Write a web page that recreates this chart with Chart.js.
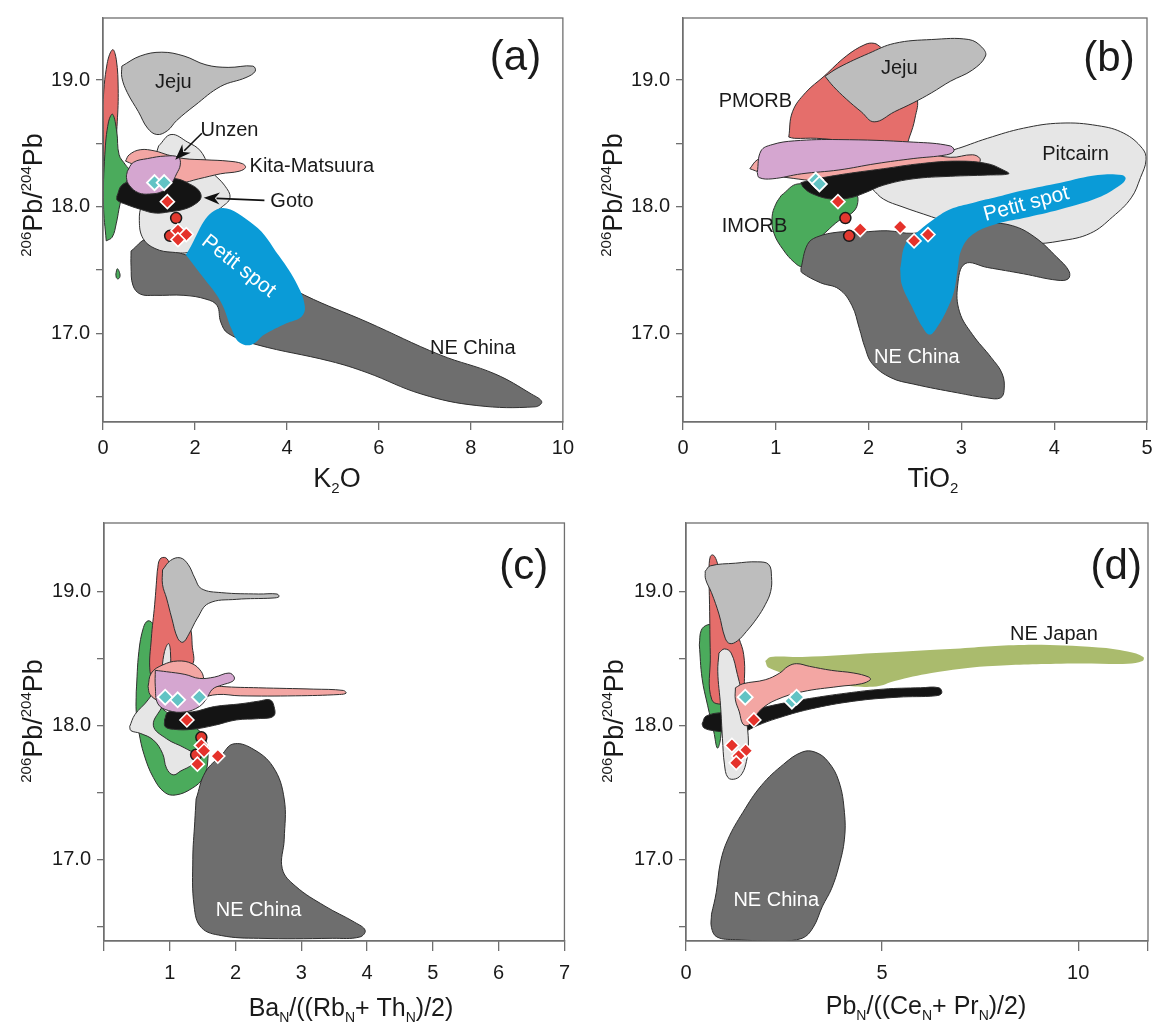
<!DOCTYPE html>
<html>
<head>
<meta charset="utf-8">
<script src="https://cdn.jsdelivr.net/npm/chart.js@4.4.1/dist/chart.umd.min.js"></script>
<style>
  html, body { margin: 0; padding: 0; background: #ffffff; }
  #wrap { position: relative; width: 1160px; height: 1030px; }
  canvas { position: absolute; }
</style>
</head>
<body>
<div id="wrap">
  <canvas id="pa" width="580" height="505" style="left:0;top:0"></canvas>
  <canvas id="pb" width="580" height="505" style="left:580px;top:0"></canvas>
  <canvas id="pc" width="580" height="525" style="left:0;top:505px"></canvas>
  <canvas id="pd" width="580" height="525" style="left:580px;top:505px"></canvas>
</div>
<script>
// ---------- Panel (a): 206Pb/204Pb vs K2O ----------
const aNEChina = [[0.61,17.65],[0.97,17.75],[1.29,17.71],[1.80,17.62],[3.35,17.51],[4.39,17.30],[5.74,17.09],[7.33,16.83],[8.52,16.68],[9.32,16.52],[9.54,16.46],[9.40,16.42],[8.13,16.43],[6.93,16.52],[5.74,16.69],[4.94,16.78],[3.35,16.91],[2.72,17.00],[2.56,17.09],[2.48,17.22],[2.24,17.27],[1.76,17.30],[1.13,17.30],[0.81,17.31],[0.65,17.38],[0.61,17.53]];
const aPetitSpot = [[1.80,17.62],[2.48,17.98],[3.27,17.86],[3.83,17.61],[4.23,17.38],[4.39,17.21],[4.31,17.13],[3.99,17.08],[3.51,16.99],[3.23,16.91],[2.96,16.93],[2.80,17.03],[2.56,17.25],[2.16,17.45]];
const aPitcairn = [[1.21,18.48],[1.48,18.57],[1.84,18.51],[2.12,18.44],[2.36,18.28],[2.64,18.17],[2.76,18.07],[2.56,17.99],[2.32,17.92],[2.12,17.76],[1.92,17.65],[1.52,17.64],[1.13,17.67],[0.87,17.75],[0.79,17.89],[0.85,18.02],[1.05,18.13],[1.09,18.33]];
const aPMORB = [[0.00,18.13],[0.01,18.49],[0.00,18.80],[0.09,19.13],[0.21,19.24],[0.29,19.16],[0.33,18.93],[0.31,18.67],[0.25,18.41],[0.17,18.23]];
const aIMORB = [[0.07,17.73],[0.01,18.02],[0.04,18.41],[0.12,18.67],[0.21,18.73],[0.30,18.59],[0.35,18.41],[0.49,18.33],[0.58,18.28],[0.49,18.18],[0.37,18.02],[0.29,17.87],[0.20,17.76]];
const aIMORBdot = [[0.28,17.47],[0.31,17.51],[0.35,17.49],[0.37,17.45],[0.33,17.43],[0.29,17.44]];
const aJeju = [[0.41,19.11],[0.81,19.19],[1.28,19.22],[1.76,19.19],[2.24,19.12],[2.72,19.10],[3.26,19.11],[3.31,19.07],[3.11,19.02],[2.56,18.95],[2.00,18.80],[1.60,18.68],[1.40,18.60],[1.17,18.57],[0.97,18.62],[0.77,18.75],[0.53,18.90],[0.41,19.02]];
const aKita = [[0.49,18.36],[0.57,18.41],[0.81,18.45],[1.13,18.44],[1.40,18.41],[1.76,18.38],[2.24,18.37],[2.72,18.36],[3.03,18.34],[3.10,18.31],[2.96,18.28],[2.56,18.26],[2.08,18.22],[1.68,18.19],[1.28,18.23],[0.81,18.31]];
const aGoto = [[0.30,18.08],[0.41,18.17],[0.65,18.20],[1.13,18.22],[1.60,18.22],[1.88,18.18],[2.08,18.13],[2.13,18.07],[2.00,18.02],[1.76,17.98],[1.45,17.96],[1.13,17.95],[0.81,17.98],[0.49,18.02],[0.31,18.05]];
const aUnzen = [[0.53,18.28],[0.66,18.35],[0.97,18.38],[1.36,18.40],[1.64,18.39],[1.68,18.33],[1.60,18.26],[1.48,18.18],[1.29,18.12],[1.01,18.10],[0.77,18.11],[0.57,18.17],[0.51,18.23]];
const aRedDiamonds = [[1.40,18.04],[1.63,17.81],[1.81,17.78],[1.63,17.74]];
const aRedCircles = [[1.59,17.91],[1.46,17.77]];
const aCyanDiamonds = [[1.12,18.19],[1.33,18.19]];

// ---------- Panel (b): 206Pb/204Pb vs TiO2 ----------
const bPitcairn = [[2.04,18.14],[2.28,18.31],[2.68,18.41],[2.92,18.45],[3.28,18.54],[3.67,18.62],[4.07,18.66],[4.47,18.64],[4.75,18.58],[4.95,18.46],[4.99,18.37],[4.93,18.23],[4.83,18.07],[4.63,17.92],[4.39,17.79],[4.07,17.73],[3.75,17.71],[3.48,17.75],[3.08,17.82],[2.68,17.92],[2.36,18.00],[2.16,18.06]];
const bIMORB = [[1.06,18.09],[1.24,18.18],[1.60,18.13],[1.86,18.10],[1.88,18.02],[1.82,17.95],[1.68,17.89],[1.54,17.80],[1.40,17.70],[1.32,17.60],[1.28,17.53],[1.20,17.56],[1.08,17.66],[0.98,17.79],[0.96,17.92],[1.00,18.02]];
const bNEChina = [[1.27,17.51],[1.34,17.70],[1.44,17.76],[1.68,17.80],[1.92,17.80],[2.20,17.81],[2.48,17.79],[2.88,17.84],[3.28,17.87],[3.55,17.85],[3.79,17.76],[4.03,17.60],[4.16,17.49],[4.15,17.43],[4.03,17.42],[3.67,17.47],[3.28,17.52],[3.04,17.55],[2.96,17.38],[2.98,17.17],[3.12,16.99],[3.32,16.81],[3.44,16.68],[3.46,16.55],[3.42,16.49],[3.28,16.49],[2.96,16.53],[2.48,16.60],[2.24,16.65],[2.04,16.76],[1.96,16.89],[1.90,17.04],[1.82,17.22],[1.68,17.35],[1.48,17.40],[1.28,17.48]];
const bPetitSpot = [[2.34,17.51],[2.40,17.71],[2.56,17.82],[2.68,17.89],[2.88,17.98],[3.12,18.03],[3.40,18.08],[3.67,18.13],[4.07,18.19],[4.47,18.25],[4.73,18.25],[4.77,18.22],[4.71,18.17],[4.47,18.07],[4.07,17.98],[3.67,17.91],[3.36,17.86],[3.12,17.78],[3.00,17.66],[2.96,17.51],[2.92,17.33],[2.84,17.18],[2.74,17.05],[2.66,16.99],[2.58,17.05],[2.46,17.22],[2.36,17.38]];
const bPMORB = [[1.14,18.55],[1.18,18.75],[1.32,18.90],[1.52,19.03],[1.76,19.19],[1.96,19.28],[2.06,19.29],[2.13,19.26],[2.32,19.16],[2.52,18.86],[2.50,18.70],[2.44,18.55],[2.40,18.50],[1.92,18.51],[1.44,18.54],[1.20,18.54]];
const bJeju = [[1.53,19.03],[1.68,19.10],[2.00,19.21],[2.28,19.29],[2.68,19.32],[3.08,19.32],[3.22,19.26],[3.26,19.19],[3.12,19.08],[2.88,18.99],[2.68,18.90],[2.48,18.82],[2.28,18.75],[2.06,18.67],[1.92,18.75],[1.76,18.85],[1.62,18.95]];
const bKita = [[0.72,18.30],[0.80,18.37],[1.00,18.44],[1.24,18.49],[1.68,18.48],[2.48,18.44],[2.88,18.39],[3.12,18.41],[3.20,18.38],[3.18,18.34],[2.88,18.30],[2.48,18.27],[2.08,18.24],[1.60,18.20],[1.12,18.23],[0.84,18.27]];
const bGoto = [[1.27,18.19],[1.44,18.22],[1.76,18.26],[2.16,18.30],[2.56,18.34],[2.96,18.36],[3.28,18.34],[3.45,18.29],[3.51,18.26],[3.28,18.25],[2.88,18.24],[2.48,18.22],[2.16,18.17],[1.96,18.11],[1.80,18.07],[1.60,18.06],[1.40,18.10],[1.30,18.15]];
const bUnzen = [[0.80,18.27],[0.84,18.44],[0.96,18.49],[1.20,18.52],[1.68,18.53],[2.48,18.51],[2.88,18.48],[2.92,18.44],[2.84,18.41],[2.48,18.38],[2.08,18.34],[1.68,18.29],[1.28,18.26],[0.96,18.22],[0.82,18.23]];
const bRedDiamonds = [[1.67,18.04],[1.91,17.82],[2.34,17.84],[2.49,17.73],[2.64,17.78]];
const bRedCircles = [[1.75,17.91],[1.79,17.77]];
const bCyanDiamonds = [[1.43,18.21],[1.47,18.18]];

// ---------- Panel (c): 206Pb/204Pb vs BaN/((RbN+ThN)/2) ----------
const cIMORB = [[0.49,18.25],[0.53,18.55],[0.60,18.73],[0.67,18.78],[0.75,18.75],[0.77,18.60],[0.72,18.40],[0.84,18.15],[1.34,18.00],[1.54,17.90],[1.58,17.75],[1.51,17.61],[1.34,17.53],[1.09,17.48],[0.92,17.50],[0.75,17.61],[0.61,17.78],[0.53,17.95],[0.49,18.10]];
const cPMORB = [[0.81,19.15],[0.85,19.24],[0.94,19.25],[1.00,19.20],[1.12,19.02],[1.20,18.83],[1.31,18.73],[1.34,18.60],[1.34,18.45],[1.06,18.40],[0.78,18.35],[0.70,18.40],[0.72,18.65],[0.77,18.90]];
const cJeju = [[0.89,19.16],[1.01,19.23],[1.16,19.25],[1.28,19.20],[1.38,19.10],[1.48,19.02],[1.79,18.99],[2.35,18.98],[2.63,18.98],[2.66,18.96],[2.57,18.95],[2.01,18.94],[1.59,18.91],[1.42,18.80],[1.29,18.68],[1.20,18.62],[1.12,18.65],[1.03,18.80],[0.95,18.95],[0.89,19.05]];
const cPitcairn = [[0.39,17.99],[0.47,18.08],[0.67,18.19],[0.84,18.33],[0.92,18.55],[0.98,18.61],[1.01,18.55],[1.00,18.35],[0.89,18.15],[0.75,18.00],[0.95,17.90],[1.23,17.83],[1.37,17.78],[1.34,17.71],[1.17,17.66],[1.05,17.63],[0.95,17.68],[0.89,17.79],[0.75,17.89],[0.55,17.94],[0.41,17.96]];
const cNEChina = [[1.40,17.45],[1.54,17.65],[1.79,17.78],[1.96,17.86],[2.24,17.83],[2.57,17.69],[2.74,17.45],[2.74,17.15],[2.71,16.93],[2.91,16.80],[3.36,16.65],[3.81,16.53],[3.97,16.47],[3.89,16.42],[3.47,16.41],[2.35,16.41],[1.79,16.43],[1.48,16.49],[1.37,16.65],[1.35,17.00],[1.38,17.28]];
const cKita = [[0.67,18.29],[0.72,18.39],[0.89,18.45],[1.12,18.48],[1.34,18.46],[1.48,18.40],[1.56,18.31],[1.79,18.29],[2.35,18.28],[3.19,18.27],[3.64,18.26],[3.68,18.24],[3.58,18.23],[2.91,18.22],[2.07,18.22],[1.73,18.23],[1.45,18.20],[1.12,18.15],[0.84,18.18],[0.70,18.23]];
const cGoto = [[0.92,18.04],[0.98,18.10],[1.34,18.10],[1.68,18.14],[2.07,18.16],[2.35,18.18],[2.52,18.19],[2.58,18.15],[2.58,18.07],[2.35,18.05],[2.01,18.04],[1.68,18.00],[1.34,17.97],[1.06,17.97],[0.93,17.99]];
const cUnzen = [[0.78,18.41],[0.95,18.40],[1.23,18.38],[1.45,18.35],[1.68,18.36],[1.90,18.39],[1.98,18.36],[1.96,18.33],[1.79,18.30],[1.65,18.27],[1.56,18.20],[1.45,18.14],[1.23,18.10],[0.98,18.11],[0.82,18.16],[0.78,18.29]];
const cRedDiamonds = [[1.26,18.04],[1.48,17.85],[1.52,17.81],[1.42,17.71],[1.73,17.77]];
const cRedCircles = [[1.48,17.91],[1.40,17.78]];
const cCyanDiamonds = [[0.93,18.21],[1.12,18.19],[1.45,18.21]];

// ---------- Panel (d): 206Pb/204Pb vs PbN/((CeN+PrN)/2) ----------
const dNEJapan = [[2.02,18.48],[2.16,18.51],[2.96,18.51],[4.85,18.54],[6.73,18.57],[8.62,18.60],[10.51,18.58],[11.26,18.55],[11.66,18.51],[11.64,18.48],[11.26,18.46],[9.56,18.46],[7.68,18.44],[6.26,18.39],[5.32,18.33],[4.85,18.29],[3.90,18.30],[2.96,18.35],[2.11,18.43]];
const dNEChina = [[0.65,16.59],[0.77,16.75],[0.88,16.98],[1.07,17.15],[1.45,17.35],[1.92,17.55],[2.49,17.71],[2.96,17.80],[3.29,17.80],[3.62,17.73],[3.90,17.58],[4.04,17.35],[4.04,17.15],[3.90,16.95],[3.71,16.78],[3.48,16.65],[3.24,16.49],[2.96,16.41],[2.39,16.39],[1.26,16.40],[0.79,16.42],[0.65,16.49]];
const dIMORB = [[0.34,18.60],[0.39,18.71],[0.55,18.75],[0.69,18.74],[0.77,18.65],[0.80,18.50],[0.93,18.15],[0.88,17.90],[0.80,17.83],[0.71,17.95],[0.55,18.15],[0.41,18.35]];
const dPMORB = [[0.58,19.15],[0.62,19.26],[0.70,19.27],[0.80,19.21],[1.07,18.90],[1.35,18.65],[1.47,18.53],[1.49,18.35],[1.42,18.20],[1.07,18.16],[0.66,18.19],[0.62,18.53],[0.60,18.90]];
const dGoto = [[0.41,18.01],[0.52,18.07],[1.07,18.10],[1.73,18.12],[2.39,18.16],[3.15,18.20],[4.09,18.24],[5.03,18.27],[5.98,18.28],[6.45,18.28],[6.52,18.24],[6.36,18.22],[5.41,18.21],[4.28,18.18],[3.15,18.12],[2.30,18.05],[1.83,18.00],[1.45,17.95],[1.07,17.95],[0.70,17.96],[0.46,17.98]];
const dJeju = [[0.49,19.15],[0.62,19.19],[1.26,19.21],[1.83,19.22],[2.11,19.20],[2.18,19.11],[2.16,19.00],[2.02,18.90],[1.81,18.80],[1.54,18.70],[1.31,18.63],[1.12,18.61],[1.00,18.65],[0.84,18.83],[0.65,18.99],[0.50,19.09]];
const dPitcairn = [[0.84,18.54],[0.98,18.57],[1.15,18.54],[1.31,18.38],[1.47,18.18],[1.56,18.00],[1.59,17.85],[1.54,17.73],[1.43,17.64],[1.26,17.60],[1.07,17.61],[0.98,17.71],[0.93,17.90],[0.88,18.15],[0.81,18.40]];
const dKita = [[1.26,18.28],[1.45,18.31],[2.02,18.34],[2.39,18.39],[2.60,18.44],[2.82,18.46],[3.15,18.44],[3.71,18.41],[4.28,18.39],[4.66,18.36],[4.70,18.34],[4.47,18.31],[3.90,18.29],[2.96,18.25],[2.30,18.19],[1.92,18.12],[1.73,18.05],[1.59,18.00],[1.45,18.01],[1.36,18.10],[1.26,18.19]];
const dRedDiamonds = [[1.73,18.04],[1.17,17.85],[1.52,17.81],[1.34,17.77],[1.28,17.72]];
const dCyanDiamonds = [[1.51,18.21],[2.70,18.18],[2.82,18.21]];

// ---------- shared tick values ----------
const yTicks = [16.5, 17.0, 17.5, 18.0, 18.5, 19.0];
const xTicksA = [0, 2, 4, 6, 8, 10];
const xTicksB = [0, 1, 2, 3, 4, 5];
const xTicksC = [0, 1, 2, 3, 4, 5, 6, 7];
const xTicksD = [0, 5, 10, 11.78];

// ---------- styling ----------
const FONT = '"Liberation Sans", Arial, Helvetica, sans-serif';
const AXIS = '#6f6f6f';
const EDGE = '#2f2f2f';
const COL = {
  neChina: '#6e6e6e', jeju: '#bdbdbd', pitcairn: '#e6e6e6', petit: '#0a9bd7',
  pmorb: '#e56e6b', imorb: '#4bab5c', kita: '#f3a6a3', unzen: '#d5a6d0',
  goto: '#141414', neJapan: '#aabb6d'
};

function field(pts, color, edge) {
  const data = pts.map(([x, y]) => ({ x, y }));
  data.push({ x: pts[0][0], y: pts[0][1] });
  return {
    type: 'line', data, fill: 'shape', tension: 0.4,
    backgroundColor: color,
    borderColor: edge === false ? color : EDGE,
    borderWidth: edge === false ? 0 : 1,
    pointRadius: 0, pointHoverRadius: 0
  };
}

function marks(pts, kind) {
  const data = pts.map(([x, y]) => ({ x, y }));
  const base = { type: 'scatter', data, pointHoverRadius: 0 };
  if (kind === 'red') return Object.assign(base, { pointStyle: 'rectRot', pointRadius: 7, backgroundColor: '#e5322b', borderColor: '#ffffff', borderWidth: 1.6 });
  if (kind === 'cyan') return Object.assign(base, { pointStyle: 'rectRot', pointRadius: 7.5, backgroundColor: '#62c3c4', borderColor: '#ffffff', borderWidth: 1.8 });
  return Object.assign(base, { pointStyle: 'circle', pointRadius: 5.5, backgroundColor: '#e2392f', borderColor: '#1a1a1a', borderWidth: 1.5 });
}

// rich text with super/subscripts, centred on (x, y) baseline
function drawRich(ctx, parts, x, y, size, rot) {
  ctx.save();
  ctx.translate(x, y);
  ctx.rotate(rot);
  const small = Math.round(size * 0.56);
  let total = 0;
  const widths = parts.map(([t, k]) => {
    ctx.font = (k ? small : size) + 'px ' + FONT;
    const w = ctx.measureText(t).width;
    total += w;
    return w;
  });
  let cx = -total / 2;
  ctx.fillStyle = '#1a1a1a';
  ctx.textBaseline = 'alphabetic';
  ctx.textAlign = 'left';
  parts.forEach(([t, k], i) => {
    ctx.font = (k ? small : size) + 'px ' + FONT;
    const dy = k === 'sup' ? -size * 0.40 : k === 'sub' ? size * 0.22 : 0;
    ctx.fillText(t, cx, dy);
    cx += widths[i];
  });
  ctx.restore();
}

const yTitleParts = [['206', 'sup'], ['Pb/', ''], ['204', 'sup'], ['Pb', '']];

function makePanel(id, spec) {
  const canvas = document.getElementById(id);
  const layers = spec.fields;              // back to front
  const datasets = layers.concat(spec.points);
  datasets.forEach((d, i) => { d.order = datasets.length - i; });

  const decor = {
    id: 'decor_' + id,
    afterDatasetsDraw(chart) {
      const { ctx, scales: { x, y } } = chart;
      ctx.save();
      (spec.arrows || []).forEach(a => {
        const x0 = x.getPixelForValue(a.from[0]), y0 = y.getPixelForValue(a.from[1]);
        const x1 = x.getPixelForValue(a.to[0]), y1 = y.getPixelForValue(a.to[1]);
        const ang = Math.atan2(y1 - y0, x1 - x0);
        const L = 16, W = 6;
        ctx.strokeStyle = '#111'; ctx.fillStyle = '#111'; ctx.lineWidth = 1.6;
        ctx.beginPath();
        ctx.moveTo(x0, y0);
        ctx.lineTo(x1 - Math.cos(ang) * L * 0.8, y1 - Math.sin(ang) * L * 0.8);
        ctx.stroke();
        ctx.beginPath();
        ctx.moveTo(x1, y1);
        ctx.lineTo(x1 - Math.cos(ang) * L - Math.sin(ang) * W, y1 - Math.sin(ang) * L + Math.cos(ang) * W);
        ctx.lineTo(x1 - Math.cos(ang) * L * 0.7, y1 - Math.sin(ang) * L * 0.7);
        ctx.lineTo(x1 - Math.cos(ang) * L + Math.sin(ang) * W, y1 - Math.sin(ang) * L - Math.cos(ang) * W);
        ctx.closePath();
        ctx.fill();
      });
      spec.labels.forEach(l => {
        const px = x.getPixelForValue(l.at[0]), py = y.getPixelForValue(l.at[1]);
        ctx.save();
        ctx.translate(px, py);
        ctx.rotate((l.rot || 0) * Math.PI / 180);
        ctx.font = (l.size || 20) + 'px ' + FONT;
        ctx.fillStyle = l.color || '#1a1a1a';
        ctx.textAlign = 'center';
        ctx.textBaseline = 'middle';
        ctx.fillText(l.text, 0, 0);
        ctx.restore();
      });
      ctx.restore();
    },
    afterDraw(chart) {
      const { ctx, chartArea: ca } = chart;
      ctx.save();
      ctx.strokeStyle = AXIS;
      ctx.lineWidth = 1.3;
      ctx.strokeRect(ca.left, ca.top, ca.right - ca.left, ca.bottom - ca.top);
      ctx.restore();
      drawRich(ctx, yTitleParts, spec.yTitleAt[0], spec.yTitleAt[1], 27, -Math.PI / 2);
      drawRich(ctx, spec.xTitle, spec.xTitleAt[0], spec.xTitleAt[1], spec.xTitleSize, 0);
    }
  };

  return new Chart(canvas, {
    type: 'scatter',
    data: { datasets },
    options: {
      responsive: false,
      animation: false,
      events: [],
      layout: { autoPadding: false, padding: { left: 0, right: spec.pad.right, top: spec.pad.top, bottom: 0 } },
      plugins: { legend: { display: false }, tooltip: { enabled: false } },
      scales: {
        x: {
          type: 'linear', position: 'bottom', min: spec.xMin, max: spec.xMax,
          afterFit(s) { s.height = spec.pad.xAxis; },
          afterBuildTicks(s) { s.ticks = spec.xTicks.map(v => ({ value: v })); },
          ticks: {
            autoSkip: false, maxRotation: 0, padding: spec.xTickPad, color: '#1a1a1a',
            font: { family: FONT, size: 20 },
            callback: v => spec.xLabel(v)
          },
          grid: { drawOnChartArea: false, drawTicks: true, tickLength: spec.xTickLen, color: AXIS, lineWidth: 1.3 },
          border: { display: true, color: AXIS, width: 1.3 }
        },
        y: {
          type: 'linear', position: 'left', min: spec.yMin, max: spec.yMax,
          afterFit(s) { s.width = spec.pad.left; },
          afterBuildTicks(s) { s.ticks = yTicks.map(v => ({ value: v })); },
          ticks: {
            autoSkip: false, padding: 6, color: '#1a1a1a',
            font: { family: FONT, size: 20 },
            callback: v => (Math.abs(v - Math.round(v)) < 1e-6 ? v.toFixed(1) : '')
          },
          grid: { drawOnChartArea: false, drawTicks: true, tickLength: 7, color: AXIS, lineWidth: 1.3 },
          border: { display: true, color: AXIS, width: 1.3 }
        }
      }
    },
    plugins: [decor]
  });
}

// ---------- (a) ----------
makePanel('pa', {
  xMin: 0, xMax: 10, yMin: 16.30, yMax: 19.49,
  xTicks: xTicksA, xLabel: v => String(v), xTickPad: 6, xTickLen: 8,
  pad: { left: 103, right: 12, top: 11, xAxis: 505 - 422 },
  yTitleAt: [42, 195], xTitleAt: [337, 487], xTitleSize: 27,
  xTitle: [['K', ''], ['2', 'sub'], ['O', '']],
  fields: [
    field(aNEChina, COL.neChina), field(aPitcairn, COL.pitcairn), field(aPetitSpot, COL.petit, false),
    field(aPMORB, COL.pmorb), field(aIMORB, COL.imorb), field(aIMORBdot, COL.imorb),
    field(aJeju, COL.jeju), field(aKita, COL.kita), field(aGoto, COL.goto), field(aUnzen, COL.unzen)
  ],
  points: [marks(aRedCircles, 'circle'), marks(aRedDiamonds, 'red'), marks(aCyanDiamonds, 'cyan')],
  arrows: [{ from: [2.15, 18.58], to: [1.57, 18.37] }, { from: [3.51, 18.05], to: [2.19, 18.07] }],
  labels: [
    { text: 'Jeju', at: [1.53, 18.98] },
    { text: 'Unzen', at: [2.75, 18.60] },
    { text: 'Kita-Matsuura', at: [4.54, 18.32] },
    { text: 'Goto', at: [4.11, 18.04] },
    { text: 'Petit spot', at: [2.95, 17.53], color: '#ffffff', rot: 38, size: 21 },
    { text: 'NE China', at: [8.04, 16.88] },
    { text: '(a)', at: [8.97, 19.17], size: 42 }
  ]
});

// ---------- (b) ----------
makePanel('pb', {
  xMin: 0, xMax: 5, yMin: 16.30, yMax: 19.49,
  xTicks: xTicksB, xLabel: v => String(v), xTickPad: 6, xTickLen: 8,
  pad: { left: 103, right: 13, top: 11, xAxis: 505 - 422 },
  yTitleAt: [42, 195], xTitleAt: [353, 487], xTitleSize: 27,
  xTitle: [['TiO', ''], ['2', 'sub']],
  fields: [
    field(bPitcairn, COL.pitcairn), field(bIMORB, COL.imorb), field(bNEChina, COL.neChina),
    field(bPetitSpot, COL.petit, false), field(bPMORB, COL.pmorb), field(bJeju, COL.jeju),
    field(bKita, COL.kita), field(bGoto, COL.goto), field(bUnzen, COL.unzen)
  ],
  points: [marks(bRedCircles, 'circle'), marks(bRedDiamonds, 'red'), marks(bCyanDiamonds, 'cyan')],
  labels: [
    { text: 'Jeju', at: [2.33, 19.09] },
    { text: 'PMORB', at: [0.78, 18.83] },
    { text: 'Pitcairn', at: [4.23, 18.41] },
    { text: 'Petit spot', at: [3.70, 18.02], color: '#ffffff', rot: -15, size: 21 },
    { text: 'IMORB', at: [0.77, 17.84] },
    { text: 'NE China', at: [2.52, 16.81], color: '#ffffff' },
    { text: '(b)', at: [4.59, 19.16], size: 42 }
  ]
});

// ---------- (c) ----------
makePanel('pc', {
  xMin: 0, xMax: 7, yMin: 16.39, yMax: 19.51,
  xTicks: xTicksC, xLabel: v => (v === 0 ? '' : String(v)), xTickPad: 10, xTickLen: 10,
  pad: { left: 104, right: 14, top: 14, xAxis: 525 - 436 },
  yTitleAt: [42, 216], xTitleAt: [351, 511], xTitleSize: 25,
  xTitle: [['Ba', ''], ['N', 'sub'], ['/((Rb', ''], ['N', 'sub'], ['+ Th', ''], ['N', 'sub'], [')/2)', '']],
  fields: [
    field(cIMORB, COL.imorb), field(cPMORB, COL.pmorb), field(cJeju, COL.jeju),
    field(cPitcairn, COL.pitcairn), field(cNEChina, COL.neChina), field(cKita, COL.kita),
    field(cGoto, COL.goto), field(cUnzen, COL.unzen)
  ],
  points: [marks(cRedCircles, 'circle'), marks(cRedDiamonds, 'red'), marks(cCyanDiamonds, 'cyan')],
  labels: [
    { text: 'NE China', at: [2.35, 16.62], color: '#ffffff' },
    { text: '(c)', at: [6.38, 19.18], size: 42 }
  ]
});

// ---------- (d) ----------
makePanel('pd', {
  xMin: 0, xMax: 11.78, yMin: 16.39, yMax: 19.51,
  xTicks: xTicksD, xLabel: v => (v % 5 === 0 ? String(v) : ''), xTickPad: 10, xTickLen: 10,
  pad: { left: 106, right: 12, top: 14, xAxis: 525 - 436 },
  yTitleAt: [43, 216], xTitleAt: [346, 509], xTitleSize: 25,
  xTitle: [['Pb', ''], ['N', 'sub'], ['/((Ce', ''], ['N', 'sub'], ['+ Pr', ''], ['N', 'sub'], [')/2)', '']],
  fields: [
    field(dNEJapan, COL.neJapan, false), field(dNEChina, COL.neChina), field(dIMORB, COL.imorb),
    field(dPMORB, COL.pmorb), field(dGoto, COL.goto), field(dJeju, COL.jeju),
    field(dPitcairn, COL.pitcairn), field(dKita, COL.kita)
  ],
  points: [marks(dRedDiamonds, 'red'), marks(dCyanDiamonds, 'cyan')],
  labels: [
    { text: 'NE Japan', at: [9.38, 18.68] },
    { text: 'NE China', at: [2.30, 16.69], color: '#ffffff' },
    { text: '(d)', at: [10.97, 19.18], size: 42 }
  ]
});
</script>
</body>
</html>
